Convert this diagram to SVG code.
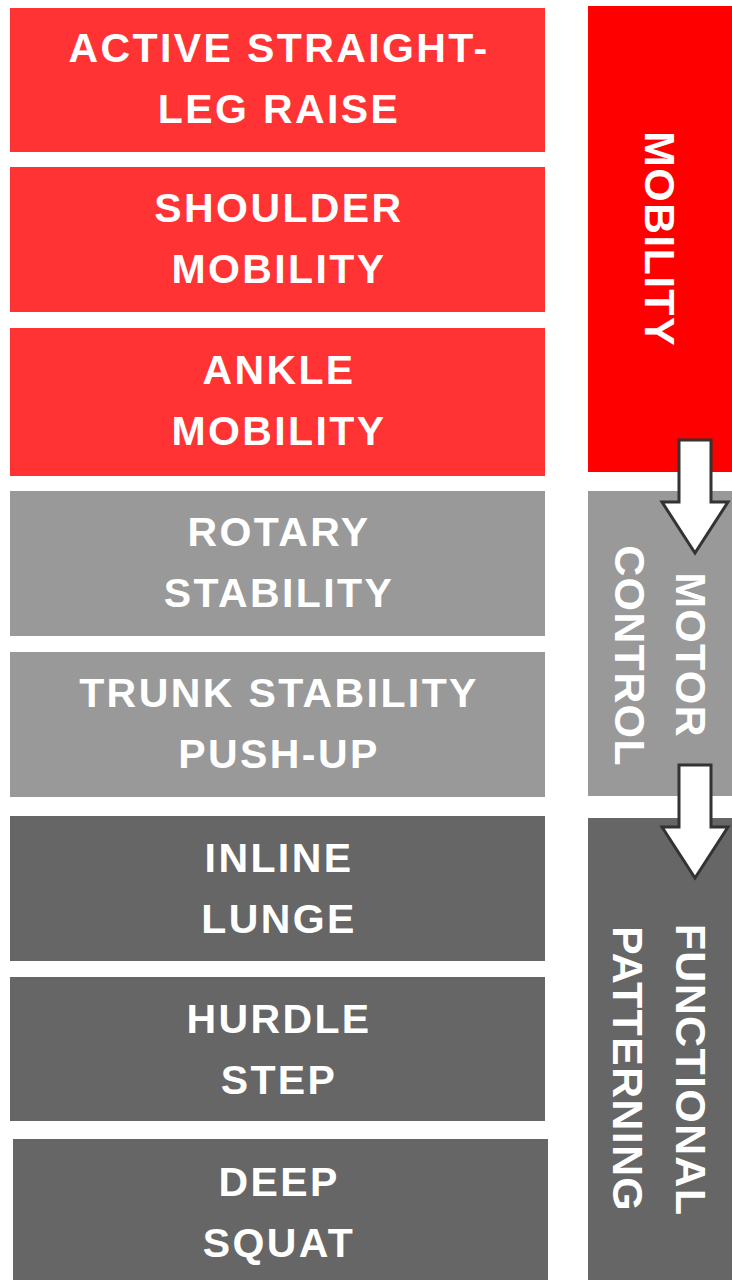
<svg xmlns="http://www.w3.org/2000/svg" width="732" height="1280" viewBox="0 0 732 1280">
<style>
.red{fill:#ff3333}
.red2{fill:#ff0000}
.g1{fill:#999999}
.g2{fill:#666666}
.t{font-family:"Liberation Sans",Arial,sans-serif;font-weight:bold;font-size:41px;letter-spacing:2.4px;fill:#ffffff;text-anchor:middle}
.v{font-family:"Liberation Sans",Arial,sans-serif;font-weight:bold;font-size:43px;letter-spacing:1.3px;fill:#ffffff;text-anchor:middle}
.arrow{fill:#ffffff;stroke:#333333;stroke-width:3;stroke-linejoin:miter}
</style>
<rect width="732" height="1280" fill="#ffffff"/>
<g id="aslr"><rect class="red" x="10" y="8" width="535" height="144"/><text class="t" x="279" y="62">ACTIVE STRAIGHT-</text><text class="t" x="279" y="123">LEG RAISE</text></g>
<g id="shoulder"><rect class="red" x="10" y="167" width="535" height="145"/><text class="t" x="279" y="222">SHOULDER</text><text class="t" x="279" y="283">MOBILITY</text></g>
<g id="ankle"><rect class="red" x="10" y="328" width="535" height="148"/><text class="t" x="279" y="384">ANKLE</text><text class="t" x="279" y="445">MOBILITY</text></g>
<g id="rotary"><rect class="g1" x="10" y="491" width="535" height="145"/><text class="t" x="279" y="546">ROTARY</text><text class="t" x="279" y="607">STABILITY</text></g>
<g id="trunk"><rect class="g1" x="10" y="652" width="535" height="145"/><text class="t" x="279" y="707">TRUNK STABILITY</text><text class="t" x="279" y="768">PUSH-UP</text></g>
<g id="lunge"><rect class="g2" x="10" y="816" width="535" height="145"/><text class="t" x="279" y="872">INLINE</text><text class="t" x="279" y="933">LUNGE</text></g>
<g id="hurdle"><rect class="g2" x="10" y="977" width="535" height="144"/><text class="t" x="279" y="1033">HURDLE</text><text class="t" x="279" y="1094">STEP</text></g>
<g id="squat"><rect class="g2" x="13" y="1139" width="535" height="141"/><text class="t" x="279" y="1196">DEEP</text><text class="t" x="279" y="1257">SQUAT</text></g>
<g id="mobility"><rect class="red2" x="588" y="6" width="144" height="466"/><text class="v" transform="translate(645,239) rotate(90)">MOBILITY</text></g>
<g id="motor"><rect class="g1" x="588" y="491" width="144" height="305"/><text class="v" transform="translate(676,655) rotate(90)">MOTOR</text><text class="v" transform="translate(615,656) rotate(90)">CONTROL</text></g>
<g id="functional"><rect class="g2" x="588" y="818" width="144" height="462"/><text class="v" transform="translate(676,1070) rotate(90)">FUNCTIONAL</text><text class="v" transform="translate(613,1069) rotate(90)">PATTERNING</text></g>
<g id="connectors">
<polygon class="arrow" points="679,440 711,440 711,502 728,502 695,553 662,502 679,502"/>
<polygon class="arrow" points="679,765 711,765 711,827 728,827 695,878 662,827 679,827"/>
</g>
</svg>
